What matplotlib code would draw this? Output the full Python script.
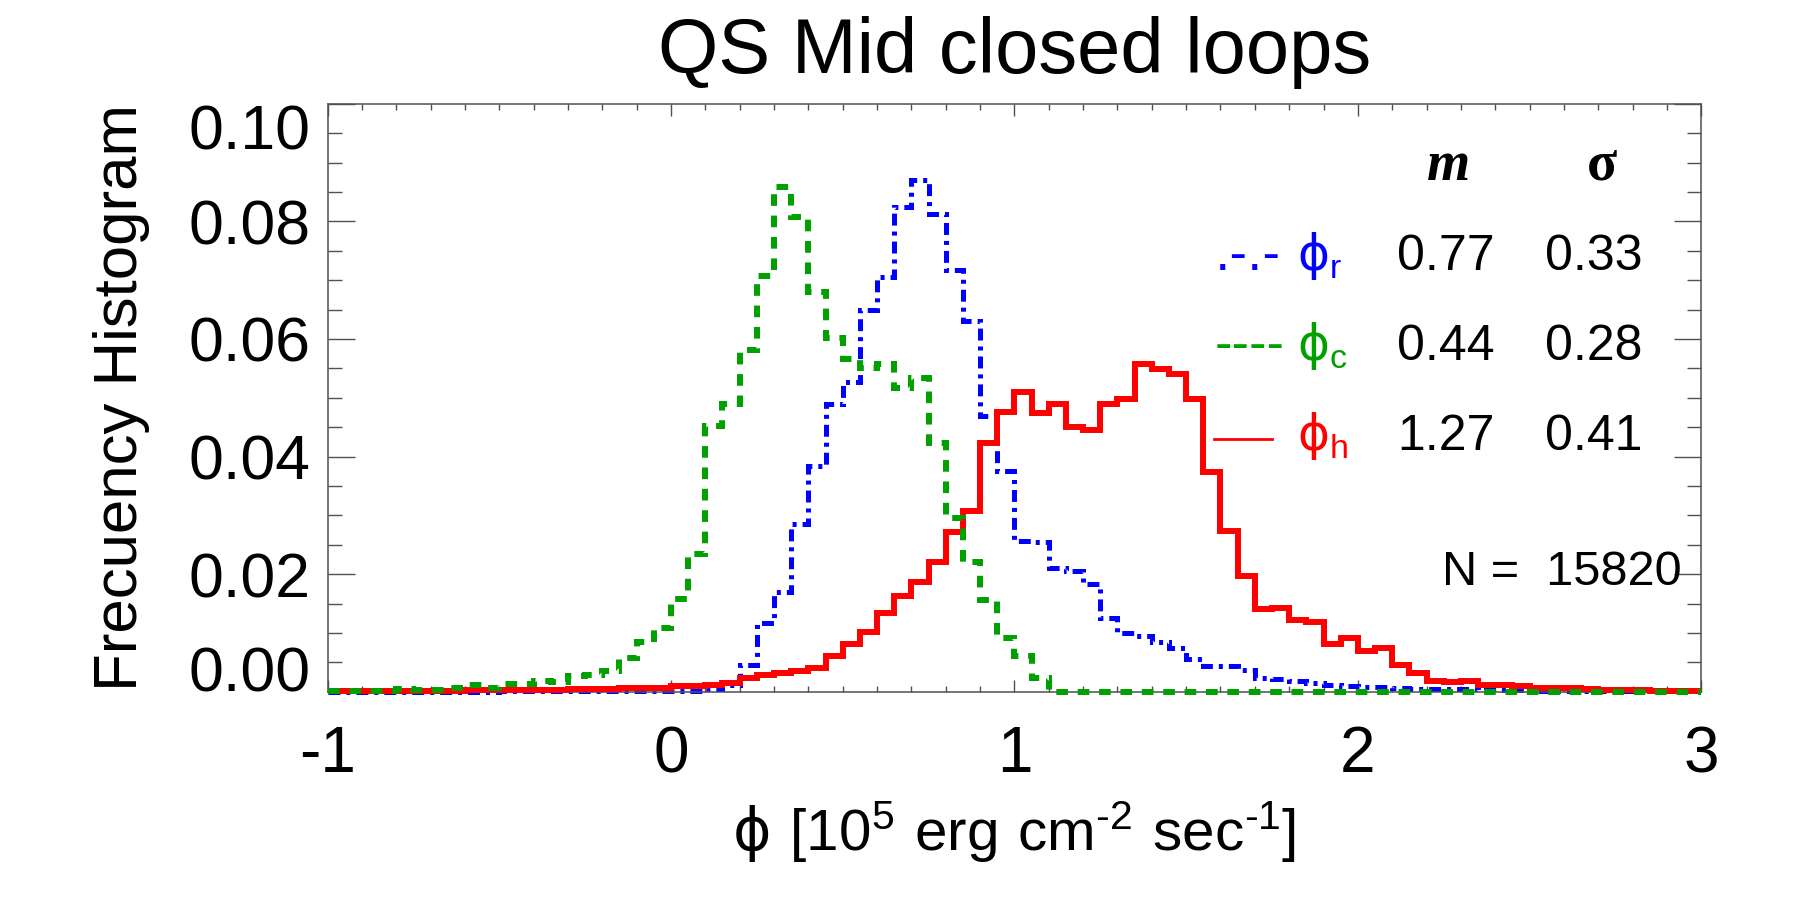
import numpy as np
import matplotlib
matplotlib.use("Agg")
import matplotlib.pyplot as plt
from matplotlib.ticker import MultipleLocator, FormatStrFormatter
from matplotlib.lines import Line2D

# ---------------- data (frequency per 0.05-wide bin, x from -1 to 3) ----------------
bin_start = -1.0
bin_width = 0.05

phi_r = [0.0, 0.0, 0.0, 0.0, 0.0, 0.0, 0.0, 0.0, 0.0, 0.0,
         0.0001, 0.0001, 0.0001, 0.0001, 0.0001, 0.0001,
         0.0002, 0.0002, 0.0002, 0.0002, 0.0002, 0.0002,
         0.0004, 0.0012,
         0.0045, 0.0117, 0.0170, 0.0286, 0.0383, 0.0490, 0.0526, 0.0650,
         0.0706, 0.0825, 0.0870, 0.0813, 0.0717, 0.0630, 0.0469, 0.0376,
         0.0257, 0.0254, 0.0210, 0.0205, 0.0183, 0.0126, 0.0099, 0.0095, 0.0085, 0.0075,
         0.0055, 0.0044, 0.0043, 0.0037, 0.0023, 0.0022, 0.0018, 0.0015, 0.0011, 0.0009,
         0.0008, 0.0008, 0.0006, 0.0005, 0.0005, 0.0004, 0.0004, 0.0003, 0.0003, 0.0003,
         0.0002, 0.0002, 0.0002, 0.0002, 0.0001, 0.0001, 0.0001, 0.0001, 0.0001, 0.0001]

phi_c = [0.0002, 0.0002, 0.0002, 0.0002,
         0.0004, 0.0003, 0.0003, 0.0006,
         0.0011, 0.0006, 0.0013, 0.0013,
         0.0018, 0.0017, 0.0026, 0.0029,
         0.0035, 0.0058, 0.0085, 0.0109,
         0.0158, 0.0235,
         0.0452, 0.0489, 0.0581, 0.0707, 0.0858,
         0.0808, 0.0680, 0.0602, 0.0566, 0.0551, 0.0557, 0.0516, 0.0534, 0.0423,
         0.0296, 0.0220, 0.0156, 0.0092, 0.0061, 0.0024] + [0.0] * 38

phi_h = [0.0002] * 8 + [0.0003] * 6 + [0.0004, 0.0004,
         0.0005, 0.0006, 0.0006, 0.0007,
         0.0009, 0.0010, 0.0012, 0.0014,
         0.0023, 0.0029, 0.0031, 0.0036, 0.0040,
         0.0061, 0.0081, 0.0102, 0.0133, 0.0163, 0.0186, 0.0221, 0.0271, 0.0307, 0.0423, 0.0475,
         0.0510, 0.0474, 0.0489, 0.0450, 0.0445, 0.0489, 0.0498, 0.0557, 0.0549, 0.0540, 0.0498,
         0.0373, 0.0274, 0.0197, 0.0141, 0.0143, 0.0122, 0.0119, 0.0081, 0.0091, 0.0070,
         0.0075, 0.0046, 0.0031,
         0.0019, 0.0017, 0.0019, 0.0011, 0.0011, 0.0009, 0.0006, 0.0006, 0.0006, 0.0004,
         0.0003, 0.0003, 0.0003, 0.0002, 0.0002, 0.0002]

series_labels = ["r", "c", "h"]
means = ["0.77", "0.44", "1.27"]
sigmas = ["0.33", "0.28", "0.41"]
n_total = "15820"

title = "QS Mid closed loops"
ylabel = "Frecuency Histogram"
xticks = [-1, 0, 1, 2, 3]
yticks = [0.00, 0.02, 0.04, 0.06, 0.08, 0.10]

# ---------------- style ----------------
plt.rcParams["font.family"] = ["Liberation Sans", "DejaVu Sans"]
plt.rcParams["axes.unicode_minus"] = False
plt.rcParams["lines.scale_dashes"] = False
plt.rcParams["mathtext.fontset"] = "custom"
plt.rcParams["mathtext.rm"] = "DejaVu Sans"
plt.rcParams["mathtext.it"] = "DejaVu Sans:italic"
plt.rcParams["mathtext.bf"] = "DejaVu Sans:bold"

BLUE = "#0000ff"
GREEN = "#00a000"
RED = "#ff0000"
AXC = "#505050"
PHI = r"\mathrm{\phi}"
HY = "\u2010"  # hyphen used in the superscripts

fig = plt.figure(figsize=(18, 9), dpi=100)
ax = fig.add_axes([327.5 / 1800, 1 - 691.7 / 900, 1373.8 / 1800, 588.0 / 900])

n_bins = len(phi_h)
edges = bin_start + bin_width * np.arange(n_bins + 1)

ax.stairs(phi_r, edges, baseline=None, color=BLUE, linewidth=3.6,
          linestyle=(0, (8.6, 4.3, 2.9, 4.3)), zorder=2, clip_on=False)
ax.stairs(phi_h, edges, baseline=None, color=RED, linewidth=4.3,
          linestyle="-", zorder=3, clip_on=False)
ax.stairs(phi_c, edges, baseline=None, color=GREEN, linewidth=4.3,
          linestyle=(0, (8.4, 7.0)), zorder=4, clip_on=False)

ax.set_xlim(-1, 3)
ax.set_ylim(0, 0.10)
ax.set_xticks(xticks)
ax.set_yticks(yticks)
ax.xaxis.set_minor_locator(MultipleLocator(0.1))
ax.yaxis.set_minor_locator(MultipleLocator(0.005))
ax.yaxis.set_major_formatter(FormatStrFormatter("%.2f"))
ax.set_xticklabels([str(t) for t in xticks])

for sp in ax.spines.values():
    sp.set_color(AXC)
    sp.set_linewidth(1.1)

ax.tick_params(axis="x", which="major", direction="in", length=8.6, width=1.0,
               color=AXC, top=True, bottom=True, labelsize=46, pad=24)
ax.tick_params(axis="x", which="minor", direction="in", length=4.3, width=1.0,
               color=AXC, top=True, bottom=True)
ax.tick_params(axis="y", which="major", direction="in", length=19.5, width=1.0,
               color=AXC, left=True, right=True, labelsize=45, pad=12)
ax.tick_params(axis="y", which="minor", direction="in", length=9.8, width=1.0,
               color=AXC, left=True, right=True)

ylabs = ax.get_yticklabels()
ylabs[0].set_verticalalignment("baseline")
ylabs[-1].set_verticalalignment("top")

ax.set_title(title, fontsize=56, pad=22)
ax.set_ylabel(ylabel, fontsize=44.5)
ax.yaxis.set_label_coords((150 - 327.5) / 1373.8, 0.5)
ax.set_xlabel(r"$%s\mathregular{\ [10^{5}\ erg\ cm^{%s2}\ sec^{%s1}]}$" % (PHI, HY, HY),
              fontsize=42, labelpad=10)

# ---------------- in-plot legend / statistics table ----------------
def axx(px):
    return (px - 327.5) / 1373.8

def axy(py):
    return (691.7 - py) / 588.0

T = ax.transAxes
ax.text(axx(1448), axy(180), "m", transform=T, ha="center", va="baseline",
        fontsize=40, family="Liberation Serif", weight="bold", style="italic")
ax.text(axx(1602), axy(180), "σ", transform=T, ha="center", va="baseline",
        fontsize=40, family="Liberation Serif", weight="bold")

row_base = [270, 360, 450]
colors = [BLUE, GREEN, RED]
samples = [".-.-", "----", None]
for i in range(3):
    yb = axy(row_base[i])
    if samples[i] is not None:
        ax.text(axx(1215), yb, samples[i], transform=T, ha="left", va="baseline",
                fontsize=35, color=colors[i], family="DejaVu Sans")
    else:
        ax.add_line(Line2D([axx(1214), axx(1272)], [axy(439), axy(439)],
                           transform=T, color=RED, linewidth=2.0))
    ax.text(axx(1297), yb, r"$%s_{\mathregular{%s}}$" % (PHI, series_labels[i]),
            transform=T, ha="left", va="baseline", fontsize=35, color=colors[i])
    ax.text(axx(1495), yb, means[i], transform=T, ha="right", va="baseline",
            fontsize=36)
    ax.text(axx(1545), yb, sigmas[i], transform=T, ha="left", va="baseline",
            fontsize=36)

ax.text(axx(1442), axy(585), "N =  " + n_total, transform=T, ha="left",
        va="baseline", fontsize=35)

fig.savefig("out.png", dpi=100)
